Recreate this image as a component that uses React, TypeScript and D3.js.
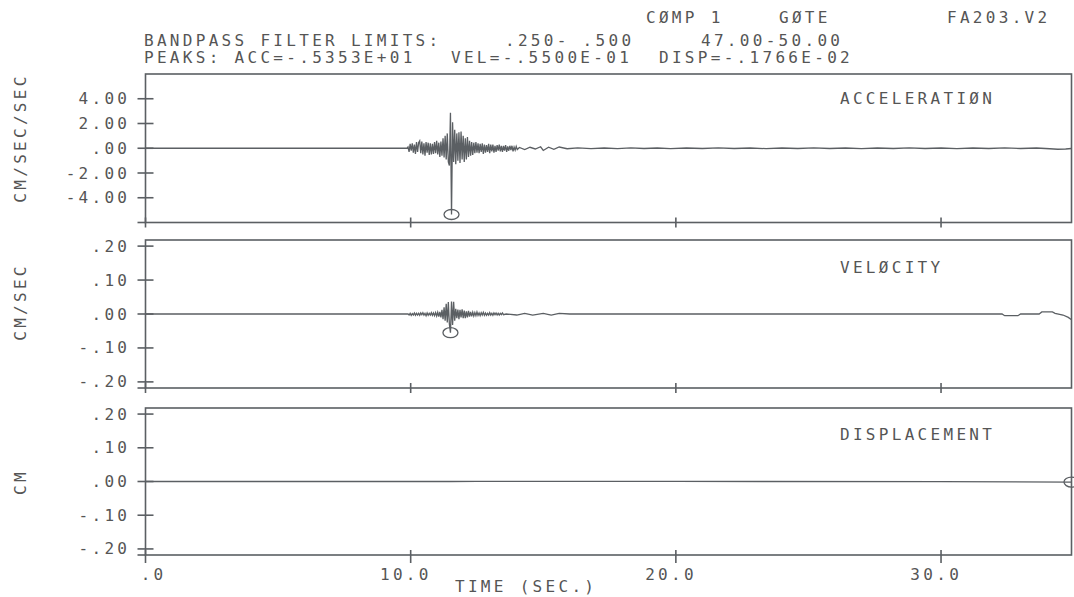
import React from 'react'
import * as d3 from 'd3'

const width = 1074
const height = 597
const plotLeft = 145.5
const plotRight = 1071.5
const ink = '#5b5f63'
const textInk = '#555'
const mono = '"DejaVu Sans Mono", "Liberation Mono", monospace'
const fontSize = 16
const glyph = fontSize * 0.602
const spacing = 3.3
const pitch = glyph + spacing

// record length, seconds
const tEnd = 34.92

const timeTicks = [0, 10, 20, 30]
const timeTickLabels = ['.0', '10.0', '20.0', '30.0']

const accTicks = [4, 2, 0, -2, -4]
const accTickLabels = ['4.00', '2.00', '.00', '-2.00', '-4.00']
const velTicks = [0.2, 0.1, 0, -0.1, -0.2]
const velTickLabels = ['.20', '.10', '.00', '-.10', '-.20']
const dispTicks = [0.2, 0.1, 0, -0.1, -0.2]
const dispTickLabels = ['.20', '.10', '.00', '-.10', '-.20']

const headerLine1 = ['CØMP 1', 'GØTE', 'FA203.V2']
const headerLine2 = ['BANDPASS FILTER LIMITS:', '.250- .500', '47.00-50.00']
const headerLine3 = ['PEAKS: ACC=-.5353E+01', 'VEL=-.5500E-01', 'DISP=-.1766E-02']

const panelTitles = ['ACCELERATIØN', 'VELØCITY', 'DISPLACEMENT']
const unitTitles = ['CM/SEC/SEC', 'CM/SEC', 'CM']

// strong-motion window, sampled every 0.04 s from 9.90 s
const burstStart = 9.9
const burstStep = 0.04

const accLead = [[0, 0], [9.86, 0]]
const accBurst = [
  0.1, -0.3, 0.35, -0.2, 0.4, -0.35, 0.3, -0.45, 0.5, -0.3, 0.45,
  0.6, -0.4, 0.55, -0.5, 0.4, -0.6, 0.5, -0.35, 0.45, -0.55,
  0.4, -0.5, 0.35, -0.45, 0.5, -0.4, 0.6, -0.5, 0.45, -0.7,
  0.55, -0.6, 0.8, -0.75, 1.0, -0.9, 1.2, -1.1,
  -1.4, 2.87, -5.353, 2.1,
  -1.1, 1.5, -1.3, 1.2, -1.0, 1.3, -1.2, 1.35, -0.9, 1.0, -1.1, 0.8, -0.9, 0.9, -0.7, 0.6,
  -0.6, 0.5, -0.55, 0.45, -0.4, 0.5, -0.35, 0.4,
  -0.4, 0.35, -0.3, 0.4, -0.45, 0.3, -0.35, 0.25, -0.3, 0.35, -0.4, 0.3, -0.25, 0.3, -0.35, 0.2,
  -0.3, 0.25, -0.2, 0.3, -0.25, 0.2, -0.3, 0.2,
  -0.2, 0.25, -0.3, 0.15, -0.2, 0.2, -0.15, 0.2, -0.25, 0.1, -0.15, 0.15, -0.1,
]
const accTail = [
  [14.1, 0.06], [14.3, -0.1], [14.5, 0.08], [14.7, -0.06], [14.9, 0.12], [15.0, -0.18],
  [15.2, 0.08], [15.4, -0.08], [15.6, 0.1], [15.9, -0.04], [16.3, 0.03], [16.8, -0.03],
  [17.3, 0.02], [17.8, -0.03], [18.3, 0.03], [18.8, -0.02], [19.3, 0.02], [19.8, -0.03],
  [20.4, 0.02], [21.0, -0.02], [21.6, 0.03], [22.2, -0.02], [22.8, 0.02], [23.4, -0.03],
  [24.0, 0.02], [24.6, -0.02], [25.2, 0.03], [25.8, -0.02], [26.4, 0.02], [27.0, -0.03],
  [27.6, 0.02], [28.2, -0.02], [28.8, 0.03], [29.4, -0.02], [30.0, 0.02], [30.6, -0.03],
  [31.2, 0.02], [31.8, -0.02], [32.4, 0.03], [33.0, -0.02], [33.6, 0.02], [34.1, -0.04],
  [34.4, -0.08], [34.7, -0.06], [34.92, -0.02],
]

const velLead = [[0, 0], [9.86, 0]]
const velBurst = [
  0, -0.003, 0.002, -0.004, 0.001, -0.003, 0.003, -0.004, 0.002, -0.003, 0.002,
  -0.004, 0.003, -0.002, 0.004, -0.003, 0.002, -0.005, 0.003, -0.004, 0.002,
  -0.003, 0.004, -0.004, 0.003, -0.005, 0.004, -0.006, 0.005, -0.008, 0.006,
  -0.01, 0.012, -0.015, 0.02, -0.02, 0.03, -0.025, 0.035,
  -0.03, -0.055, 0.037, -0.032, 0.036,
  -0.02, 0.015, -0.012, 0.013, -0.015, 0.012, -0.01, 0.014, -0.012, 0.01, -0.012, 0.008, -0.01, 0.009, -0.008,
  0.006, -0.007, 0.005, -0.006, 0.004, -0.005, 0.006, -0.004, 0.003, -0.005, 0.004, -0.003, 0.005, -0.004,
  0.003, -0.004, 0.002, -0.003, 0.004, -0.003, 0.002, -0.004, 0.003, -0.002, 0.003, -0.003, 0.002, -0.003,
  0.002, -0.002, 0.003, -0.002,
]
const velTail = [
  [13.6, 0], [14.0, -0.003], [14.3, 0.002], [14.6, -0.003], [15.0, 0.002], [15.3, -0.003],
  [15.6, 0.002], [16.0, 0], [32.3, 0], [32.4, -0.005], [32.9, -0.005], [33.0, 0],
  [33.7, 0], [33.8, 0.006], [34.2, 0.006], [34.3, 0.002], [34.6, -0.003], [34.8, -0.01],
  [34.92, -0.017],
]

const dispSeries = [[0, 0], [11.5, 0], [12.5, 0.0004], [20, 0.0003], [30, -0.0004], [34.92, -0.001766]]

const withBurst = (lead, burst, tail) => [
  ...lead,
  ...burst.map((v, i) => [burstStart + i * burstStep, v]),
  ...tail,
]

const x = d3.scaleLinear().domain([0, tEnd]).range([plotLeft, plotRight])

const panels = [
  {
    top: 74, bottom: 222.5, domain: [-6, 6],
    ticks: accTicks, labels: accTickLabels,
    data: withBurst(accLead, accBurst, accTail),
    title: panelTitles[0], unit: unitTitles[0], unitY: 138, titleY: 104,
  },
  {
    top: 240, bottom: 388, domain: [-0.218, 0.218],
    ticks: velTicks, labels: velTickLabels,
    data: withBurst(velLead, velBurst, velTail),
    title: panelTitles[1], unit: unitTitles[1], unitY: 302, titleY: 273,
  },
  {
    top: 408, bottom: 555, domain: [-0.218, 0.218],
    ticks: dispTicks, labels: dispTickLabels,
    data: dispSeries,
    title: panelTitles[2], unit: unitTitles[2], unitY: 482, titleY: 440,
  },
]

const Txt = ({ x, y, children, anchor = 'start', rotate = false }) => (
  <text
    x={x}
    y={y}
    textAnchor={anchor}
    fontFamily={mono}
    fontSize={fontSize}
    letterSpacing={spacing}
    fill={textInk}
    transform={rotate ? `rotate(-90 ${x} ${y})` : undefined}
  >
    {children}
  </text>
)

const Panel = ({ p, last }) => {
  const y = d3.scaleLinear().domain(p.domain).range([p.bottom, p.top])
  const line = d3.line().x(d => x(d[0])).y(d => y(d[1]))
  const peak = d3.greatest(p.data, d => Math.abs(d[1]))
  return (
    <g>
      <rect x={plotLeft} y={p.top} width={plotRight - plotLeft} height={p.bottom - p.top}
        fill="none" stroke={ink} strokeWidth={1.6} />
      <line x1={plotLeft - 8} x2={plotLeft} y1={p.bottom} y2={p.bottom} stroke={ink} strokeWidth={1.6} />
      {p.ticks.map((t, i) => (
        <g key={i}>
          <line x1={plotLeft - 8} x2={plotLeft + 8} y1={y(t)} y2={y(t)} stroke={ink} strokeWidth={1.6} />
          <Txt x={127 + spacing} y={y(t) + 5.5} anchor="end">{p.labels[i]}</Txt>
        </g>
      ))}
      {timeTicks.map(t => (
        <line key={t} x1={x(t)} x2={x(t)} y1={p.bottom - 5} y2={p.bottom + (last ? 8 : 5)}
          stroke={ink} strokeWidth={1.6} />
      ))}
      <path d={line(p.data)} fill="none" stroke={ink} strokeWidth={1.3} />
      <ellipse cx={x(peak[0])} cy={y(peak[1])} rx={7.5} ry={5} fill="none" stroke={ink} strokeWidth={1.3} />
      <Txt x={840} y={p.titleY}>{p.title}</Txt>
      <Txt x={26} y={p.unitY} anchor="middle" rotate>{p.unit}</Txt>
    </g>
  )
}

export default function App() {
  return (
    <svg width={width} height={height} style={{ position: 'absolute', left: 0, top: 0, background: '#fff' }}>
      <rect width={width} height={height} fill="#fff" />
      <Txt x={646} y={23}>{headerLine1[0]}</Txt>
      <Txt x={779} y={23}>{headerLine1[1]}</Txt>
      <Txt x={947} y={23}>{headerLine1[2]}</Txt>
      <Txt x={144} y={46}>{headerLine2[0]}</Txt>
      <Txt x={505} y={46}>{headerLine2[1]}</Txt>
      <Txt x={701} y={46}>{headerLine2[2]}</Txt>
      <Txt x={144} y={63}>{headerLine3[0]}</Txt>
      <Txt x={451} y={63}>{headerLine3[1]}</Txt>
      <Txt x={659} y={63}>{headerLine3[2]}</Txt>
      {panels.map((p, i) => (
        <Panel key={i} p={p} last={i === panels.length - 1} />
      ))}
      {timeTicks.map((t, i) => {
        const dot = timeTickLabels[i].indexOf('.')
        return (
          <Txt key={t} x={x(t) - dot * pitch - glyph / 2} y={580}>{timeTickLabels[i]}</Txt>
        )
      })}
      <Txt x={455} y={592}>TIME (SEC.)</Txt>
    </svg>
  )
}
